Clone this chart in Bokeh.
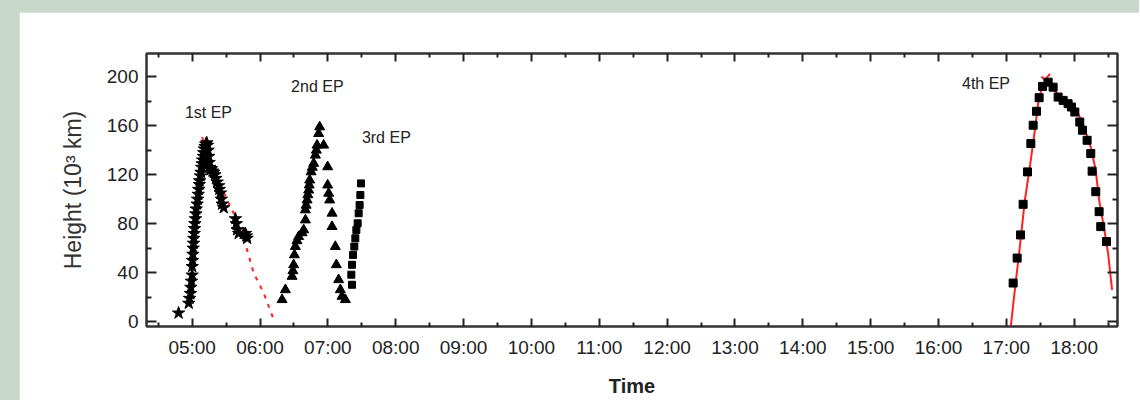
from bokeh.plotting import figure
from bokeh.models import FixedTicker, LinearAxis, Range1d, CustomJSTickFormatter
from bokeh.layouts import column
from bokeh.core.properties import value
from bokeh.embed import file_html
from bokeh.resources import INLINE

# ---------------- data ----------------
x_tick_hours = [5, 6, 7, 8, 9, 10, 11, 12, 13, 14, 15, 16, 17, 18]
x_tick_labels = ["05:00", "06:00", "07:00", "08:00", "09:00", "10:00", "11:00",
                 "12:00", "13:00", "14:00", "15:00", "16:00", "17:00", "18:00"]
x_minor_hours = [4.5, 5.5, 6.5, 7.5, 8.5, 9.5, 10.5, 11.5, 12.5, 13.5, 14.5,
                 15.5, 16.5, 17.5, 18.5]
y_ticks = [0, 40, 80, 120, 160, 200]
y_minor = [20, 60, 100, 140, 180]

# 1st EP (stars)
ep1_time = [4.80, 4.95, 4.96, 4.975, 4.98, 4.99, 5.00, 5.00, 5.005, 5.01, 5.015,
            5.02, 5.024, 5.03, 5.035, 5.04, 5.049, 5.055, 5.06, 5.074, 5.08, 5.09,
            5.097, 5.105, 5.11, 5.122, 5.13, 5.14, 5.147, 5.155, 5.165, 5.171,
            5.18, 5.19, 5.20, 5.215, 5.225, 5.235, 5.245, 5.25, 5.26, 5.27, 5.285,
            5.30, 5.318, 5.335, 5.35, 5.368, 5.39, 5.40, 5.417, 5.43, 5.442,
            5.465, 5.638, 5.65, 5.663, 5.686, 5.76, 5.785, 5.80, 5.81]
ep1_height = [7, 15, 19, 23, 28, 33, 38, 45, 50, 55, 60,
              64, 68, 72, 76, 80, 84, 88, 92, 96, 100, 104,
              108, 112, 115, 119, 122, 126, 129, 132, 135, 138,
              141, 143, 145, 146, 144, 140, 135, 130, 126, 124, 125,
              123, 122, 120, 117, 114, 111, 108, 105, 100, 96,
              93, 84, 80, 75, 72, 72, 72, 70, 68]
ep1_fit_time = [5.147, 5.245, 5.368, 5.515, 5.638, 5.810, 5.907, 6.054, 6.202]
ep1_fit_height = [150.8, 131.9, 118.3, 99.3, 85.7, 58.6, 39.6, 23.4, 1.6]

# 2nd EP (triangles)
ep2_time = [6.325, 6.374, 6.473, 6.485, 6.496, 6.507, 6.521, 6.545, 6.570, 6.62,
            6.644, 6.669, 6.669, 6.68, 6.694, 6.705, 6.717, 6.725, 6.732, 6.753,
            6.77, 6.791, 6.816, 6.83, 6.841, 6.864, 6.879, 6.938, 6.997, 6.997,
            7.012, 7.027, 7.062, 7.062, 7.110, 7.125, 7.159, 7.184, 7.209, 7.258]
ep2_height = [17.9, 26.0, 36.9, 41.5, 46.4, 54.5, 61.3, 66.0, 69.4, 72.5,
              74.9, 83.0, 91.2, 95.0, 99.3, 103.5, 107.4, 111.5, 115.6, 122.3,
              126.0, 129.2, 135.9, 140.0, 144.1, 153.6, 159.0, 144.1, 126.4, 111.5,
              104.8, 99.3, 88.5, 77.6, 61.3, 46.4, 34.2, 26.0, 20.6, 17.9]

# 3rd EP (squares)
ep3_time = [7.356, 7.346, 7.356, 7.371, 7.390, 7.405, 7.420, 7.439, 7.454,
            7.468, 7.479, 7.489]
ep3_height = [30.1, 38.3, 46.4, 54.5, 61.3, 68.1, 74.9, 80.3, 88.5, 95.2,
              103.4, 112.9]

# 4th EP (squares) and its fit
ep4_time = [17.100, 17.159, 17.209, 17.247, 17.312, 17.361, 17.395, 17.445,
            17.483, 17.533, 17.616, 17.689, 17.763, 17.837, 17.910, 17.960,
            18.009, 18.082, 18.122, 18.190, 18.244, 18.264, 18.318, 18.367,
            18.391, 18.475]
ep4_height = [31.5, 51.9, 70.8, 95.8, 122.3, 145.5, 160.4, 171.8, 182.9, 192.1,
              195.6, 191.5, 183.4, 180.7, 178.0, 175.3, 171.2, 163.0, 156.3,
              148.1, 137.3, 122.9, 106.1, 89.8, 77.6, 65.4]
ep4_rise_fit_time = [17.066, 17.125, 17.199, 17.273, 17.346, 17.420, 17.468,
                     17.518, 17.567, 17.641]
ep4_rise_fit_height = [-3.8, 26.0, 61.3, 99.3, 126.4, 156.3, 178.0, 190.2,
                       197.0, 202.4]
ep4_fall_fit_time = [17.518, 17.753, 17.900, 18.047, 18.145, 18.243, 18.317,
                     18.367, 18.436, 18.499, 18.558]
ep4_fall_fit_height = [200.2, 186.2, 179.3, 171.2, 159.0, 142.7, 123.7, 99.3,
                       77.6, 55.9, 26.0]

ep_labels = ["1st EP", "2nd EP", "3rd EP", "4th EP"]
ep_label_time = [5.24, 6.845, 7.862, 16.70]
ep_label_height = [170.9, 192.1, 150.6, 194.5]

# ---------------- figure ----------------
FONT = "Liberation Sans"
fig = figure(width=1120, height=388, x_range=Range1d(4.327, 18.638),
             y_range=Range1d(-4, 219), output_backend="svg",
             toolbar_location=None, min_border_left=127, min_border_right=22,
             min_border_top=41, min_border_bottom=74)
fig.margin = (12, 0, 0, 19)
fig.xgrid.visible = False
fig.ygrid.visible = False
fig.background_fill_color = "white"
fig.border_fill_color = "white"
fig.outline_line_color = "#333333"
fig.outline_line_width = 2

xticker = FixedTicker(ticks=x_tick_hours, minor_ticks=x_minor_hours)
yticker = FixedTicker(ticks=y_ticks, minor_ticks=y_minor)

xax = fig.xaxis[0]
yax = fig.yaxis[0]
xax.ticker = xticker
yax.ticker = yticker
xax.major_label_overrides = {h: lab for h, lab in zip(x_tick_hours, x_tick_labels)}
xax.axis_label = "Time"
yax.axis_label = "Height (10\u00b3 km)"

empty = CustomJSTickFormatter(code="return ''")
top = LinearAxis(ticker=xticker, formatter=empty)
right = LinearAxis(ticker=yticker, formatter=empty)
fig.add_layout(top, "above")
fig.add_layout(right, "right")

for ax in (xax, yax, top, right):
    ax.major_tick_in = 8
    ax.major_tick_out = 0
    ax.minor_tick_in = 4
    ax.minor_tick_out = 0
    ax.axis_line_color = "#333333"
    ax.axis_line_width = 2
    ax.major_tick_line_color = "#222222"
    ax.major_tick_line_width = 2
    ax.minor_tick_line_color = "#222222"
    ax.minor_tick_line_width = 2
    ax.major_label_text_font = FONT
    ax.major_label_text_font_size = "19px"
    ax.major_label_text_color = "#222222"
    ax.major_label_standoff = 10
for ax in (yax, right):
    ax.major_tick_in = 10
    ax.minor_tick_in = 5
yax.major_label_standoff = 8

xax.axis_label_text_font = FONT
xax.axis_label_text_font_size = "20px"
xax.axis_label_text_font_style = "bold"
xax.axis_label_text_color = "#222222"
xax.axis_label_standoff = 14
yax.axis_label_text_font = FONT
yax.axis_label_text_font_size = "23px"
yax.axis_label_text_font_style = "normal"
yax.axis_label_text_color = "#333333"
yax.axis_label_standoff = 18

# fits
fig.line(ep1_fit_time, ep1_fit_height, line_color="#ff2020", line_width=2,
         line_dash="4 6")
fig.line(ep4_rise_fit_time, ep4_rise_fit_height, line_color="#ff2020", line_width=2)
fig.line(ep4_fall_fit_time, ep4_fall_fit_height, line_color="#ff2020", line_width=2)

# data
fig.scatter(ep1_time, ep1_height, marker="star", size=13, color="black")
fig.scatter(ep2_time, ep2_height, marker="triangle", size=10, color="black")
fig.scatter(ep3_time, ep3_height, marker="square", size=7, color="black")
fig.scatter(ep4_time, ep4_height, marker="square", size=8, color="black")

fig.text(ep_label_time, ep_label_height, text=ep_labels, text_align="center",
         text_baseline="middle", text_font=value(FONT), text_font_size="16px",
         text_color="#222222")

p = column(fig, styles={"background-color": "#c8d8cb"})

open("out.html", "w").write(file_html(p, INLINE))
